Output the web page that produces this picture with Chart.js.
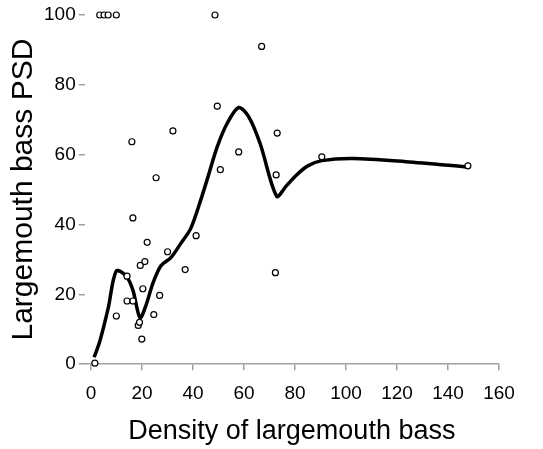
<!DOCTYPE html>
<html>
<head>
<meta charset="utf-8">
<script src="https://cdn.jsdelivr.net/npm/chart.js@4.4.1/dist/chart.umd.min.js"></script>
<style>
  html, body { margin: 0; padding: 0; background: #fff; }
  #wrap { width: 543px; height: 449px; }
</style>
</head>
<body>
<div id="wrap"><canvas id="psdChart" width="543" height="449"></canvas></div>
<script>
// observed lakes: density vs PSD
const densityX = [1.5, 3.4, 5.1, 6.7, 9.9, 9.9, 14.1, 16.4, 14.1, 16.0, 16.4, 18.5, 19.0, 19.9, 19.3, 21.1,
    20.3, 22.0, 24.6, 25.5, 26.9, 30.0, 32.1, 36.9, 41.2, 48.6, 49.5, 50.7, 57.9, 66.9, 72.3, 72.6, 73.0, 90.5, 147.8];
const psdY = [0.3, 100, 100, 100, 100, 13.8, 18.1, 18.1, 25.2, 63.7, 41.9, 11.1, 12.0, 7.2, 28.3, 29.4,
    21.6, 34.9, 14.2, 53.4, 19.7, 32.2, 66.8, 27.1, 36.8, 100, 73.9, 55.7, 60.8, 91.0, 26.2, 54.2, 66.2, 59.4, 56.8];

// smoothed trend line
const trendX = [1.2, 3.4, 6.7, 9.9, 13.8, 16.4, 19.2, 21.6, 24.2, 27.4, 31.3, 35.2, 39.1, 43, 46, 49.5,
    53.4, 57.9, 61.8, 66.3, 72.8, 76.5, 80.6, 85, 90.5, 102.6, 123.4, 147.8];
const trendY = [2, 6.5, 16, 26.7, 25.2, 21.2, 13.3, 17, 23.1, 28.2, 30.5, 34.6, 38.9, 47, 54, 62.3,
    69, 73.5, 70.9, 63.2, 48.1, 51, 54.2, 56.8, 58.3, 58.9, 58.0, 56.5];

const xTicks = [0, 20, 40, 60, 80, 100, 120, 140, 160];
const yTicks = [0, 20, 40, 60, 80, 100];

const fontFam = "'Liberation Sans', Arial, Helvetica, sans-serif";

new Chart(document.getElementById('psdChart'), {
    type: 'scatter',
    data: {
        datasets: [{
            type: 'line',
            label: 'trend',
            data: trendX.map((x, i) => ({x: x, y: trendY[i]})),
            borderColor: '#000',
            borderWidth: 3.5,
            pointRadius: 0,
            tension: 0.3,
            fill: false,
            clip: false,
            order: 2
        }, {
            label: 'lakes',
            data: densityX.map((x, i) => ({x: x, y: psdY[i]})),
            borderColor: '#000',
            backgroundColor: '#fff',
            borderWidth: 1.2,
            pointRadius: 3,
            clip: false,
            order: 1
        }]
    },
    options: {
        responsive: false,
        animation: false,
        devicePixelRatio: 1,
        layout: { padding: { left: 9, top: 15, right: 44, bottom: 4 } },
        plugins: { legend: { display: false }, tooltip: { enabled: false } },
        scales: {
            x: {
                type: 'linear',
                min: -2.5,
                max: 160,
                afterBuildTicks: s => { s.ticks = xTicks.map(v => ({value: v})); },
                border: { display: true, color: '#a0a0a0', width: 1.5 },
                grid: { drawOnChartArea: false, drawTicks: true, tickLength: 6, color: '#a0a0a0', lineWidth: 1.5 },
                ticks: { color: '#000', padding: 12, maxRotation: 0, font: { family: fontFam, size: 19 } },
                title: { display: true, text: 'Density of largemouth bass', color: '#000',
                    padding: { top: 1, bottom: 0 }, font: { family: fontFam, size: 27, lineHeight: 1 } }
            },
            y: {
                min: 0,
                max: 100,
                afterBuildTicks: s => { s.ticks = yTicks.map(v => ({value: v})); },
                border: { display: false },
                grid: { drawOnChartArea: false, drawTicks: true, tickLength: 6, color: '#a0a0a0', lineWidth: 1.5 },
                ticks: { color: '#000', padding: 3, font: { family: fontFam, size: 19 } },
                title: { display: true, text: 'Largemouth bass PSD', color: '#000',
                    padding: { top: 0, bottom: 2 }, font: { family: fontFam, size: 30, lineHeight: 1 } }
            }
        }
    }
});
</script>
</body>
</html>
